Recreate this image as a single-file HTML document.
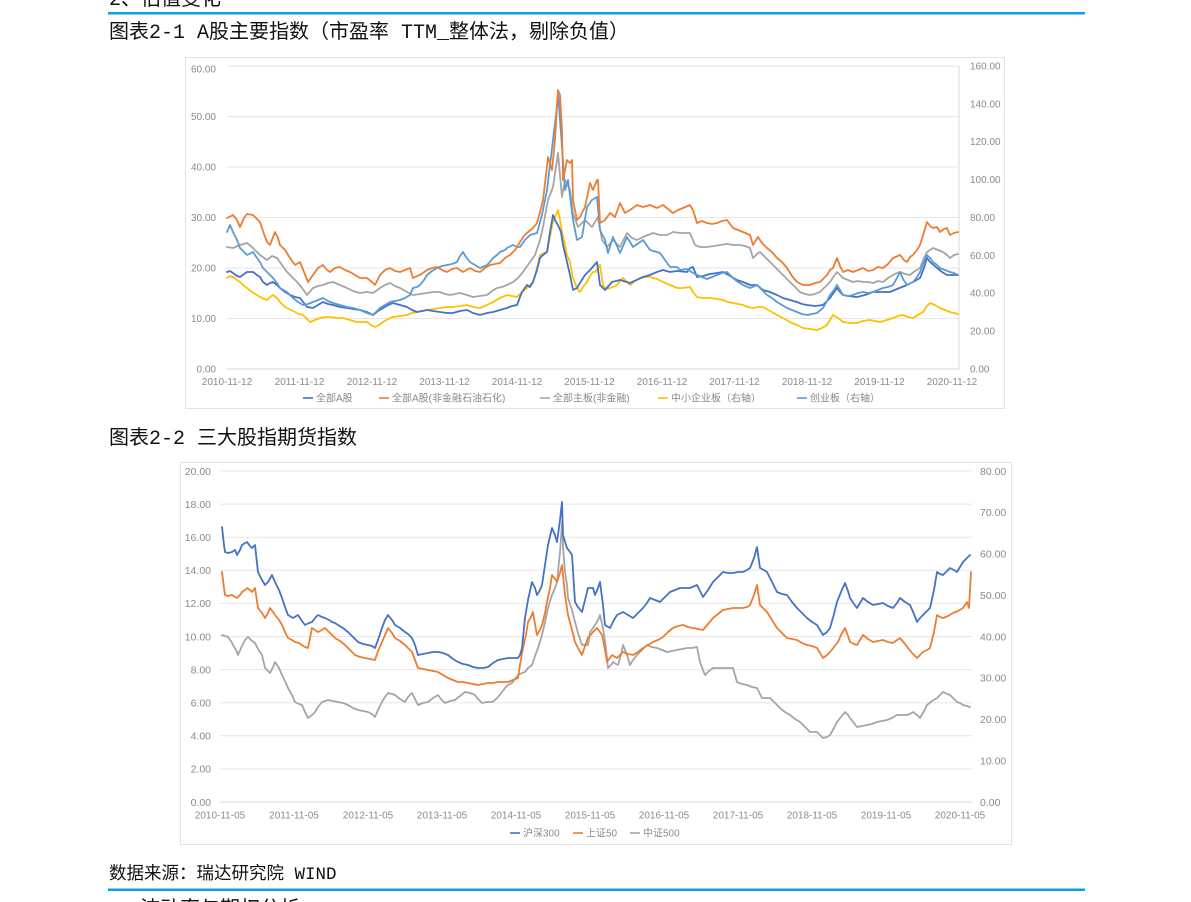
<!DOCTYPE html>
<html>
<head>
<meta charset="utf-8">
<style>
html,body{margin:0;padding:0;background:#fff;}
body{width:1191px;height:902px;overflow:hidden;position:relative;}
svg{position:absolute;left:0;top:0;}
.t{font-family:"Liberation Mono","Noto Sans CJK SC",sans-serif;fill:#111;}
.ax{font-family:"Liberation Sans","Noto Sans CJK SC",sans-serif;font-size:10px;fill:#8a8a8a;}
.lg{font-family:"Liberation Sans","Noto Sans CJK SC",sans-serif;font-size:10px;fill:#8a8a8a;}
.s{fill:none;stroke-width:1.8;stroke-linejoin:round;stroke-linecap:round;}
.g{stroke:#e6e6e6;stroke-width:1;}
</style>
</head>
<body>
<svg width="1191" height="902" viewBox="0 0 1191 902" xmlns="http://www.w3.org/2000/svg">
<text class="t" x="109" y="5" font-size="20">2、估值变化</text>
<rect x="108" y="12" width="977" height="2.5" fill="#0aa0e0"/>
<text class="t" x="109" y="38" font-size="20">图表2-1 A股主要指数（市盈率 TTM_整体法，剔除负值）</text>

<rect x="185.5" y="57.5" width="819" height="351" fill="#fff" stroke="#e3e3e3" stroke-width="1"/>
<g>
<line class="g" x1="227" y1="66" x2="959" y2="66"/>
<line class="g" x1="227" y1="116.5" x2="959" y2="116.5"/>
<line class="g" x1="227" y1="167" x2="959" y2="167"/>
<line class="g" x1="227" y1="217.5" x2="959" y2="217.5"/>
<line class="g" x1="227" y1="268" x2="959" y2="268"/>
<line class="g" x1="227" y1="318.5" x2="959" y2="318.5"/>
<line class="g" x1="227" y1="369" x2="959" y2="369" style="stroke:#d9d9d9"/>
<line x1="959" y1="66" x2="959" y2="369" stroke="#d9d9d9" stroke-width="1"/>
</g>
<g class="ax" text-anchor="end">
<text x="216" y="72.5">60.00</text>
<text x="216" y="120">50.00</text>
<text x="216" y="170.5">40.00</text>
<text x="216" y="221">30.00</text>
<text x="216" y="271.5">20.00</text>
<text x="216" y="322">10.00</text>
<text x="216" y="372.5">0.00</text>
</g>
<g class="ax">
<text x="970" y="69.5">160.00</text>
<text x="970" y="107.3">140.00</text>
<text x="970" y="145.2">120.00</text>
<text x="970" y="183.1">100.00</text>
<text x="970" y="221">80.00</text>
<text x="970" y="258.9">60.00</text>
<text x="970" y="296.7">40.00</text>
<text x="970" y="334.6">20.00</text>
<text x="970" y="372.5">0.00</text>
</g>
<g class="ax" text-anchor="middle">
<text x="227" y="385">2010-11-12</text>
<text x="299.5" y="385">2011-11-12</text>
<text x="372" y="385">2012-11-12</text>
<text x="444.5" y="385">2013-11-12</text>
<text x="517" y="385">2014-11-12</text>
<text x="589.5" y="385">2015-11-12</text>
<text x="662" y="385">2016-11-12</text>
<text x="734.5" y="385">2017-11-12</text>
<text x="807" y="385">2018-11-12</text>
<text x="879.5" y="385">2019-11-12</text>
<text x="952" y="385">2020-11-12</text>
</g>
<g>
<line x1="303" y1="398" x2="313" y2="398" stroke="#4472C4" stroke-width="1.6"/>
<text class="lg" x="316" y="401.5">全部A股</text>
<line x1="379" y1="398" x2="389" y2="398" stroke="#ED7D31" stroke-width="1.6"/>
<text class="lg" x="392" y="401.5">全部A股(非金融石油石化)</text>
<line x1="540" y1="398" x2="550" y2="398" stroke="#A5A5A5" stroke-width="1.6"/>
<text class="lg" x="553" y="401.5">全部主板(非金融)</text>
<line x1="658" y1="398" x2="668" y2="398" stroke="#FFC000" stroke-width="1.6"/>
<text class="lg" x="671" y="401.5">中小企业板（右轴）</text>
<line x1="797" y1="398" x2="807" y2="398" stroke="#5B9BD5" stroke-width="1.6"/>
<text class="lg" x="810" y="401.5">创业板（右轴）</text>
</g>

<polyline class="s" stroke="#A5A5A5" points="227,247 233,248 240,245 247,243 253,248 260,255 267,260 272,256 277,258 282,265 287,272 292,277 297,282 302,288 307,295 313,288 318,286 323,285 328,283 333,282 340,285 347,288 353,291 360,293 367,292 373,293 380,288 385,285 390,283 395,286 400,288 407,292 413,295 420,294 427,293 433,292 440,292 445,294 450,295 455,294 460,293 467,295 473,297 480,296 487,295 492,291 497,288 502,287 507,285 513,282 518,278 523,272 530,262 535,255 540,240 543,227 548,200 553,187 558,153 562,197 565,180 570,190 573,213 578,227 585,220 592,227 598,217 602,240 607,247 613,240 620,247 627,233 632,238 637,240 643,237 653,233 660,235 667,235 673,232 680,233 690,233 695,245 700,247 707,247 714,246 720,245 727,244 733,245 740,245 745,246 750,248 753,258 757,254 760,252 765,257 770,262 775,267 780,272 785,277 790,282 795,287 800,292 805,294 810,295 815,294 820,292 825,287 830,282 834,276 837,272 840,275 843,278 848,280 853,282 858,281 863,282 868,282 873,283 878,281 883,282 888,278 893,275 897,273 900,272 905,274 910,275 915,271 920,268 924,258 927,252 930,250 933,248 938,250 943,252 947,255 950,258 954,255 958,254"/>
<polyline class="s" stroke="#FFC000" points="227,278 230,276 233,277 237,280 240,282 244,286 247,288 252,292 257,295 262,298 267,300 270,297 273,295 277,298 280,302 284,306 287,308 291,310 295,312 299,314 303,315 307,319 310,322 315,320 320,318 325,317 330,317 337,318 343,318 350,320 357,322 362,322 367,322 371,325 375,327 379,325 383,322 388,319 393,317 400,316 407,315 412,313 417,312 422,311 427,310 433,309 440,308 447,307 453,307 460,306 467,305 473,307 480,308 487,305 493,302 500,298 507,295 512,296 517,297 522,292 527,288 530,285 533,282 537,268 540,255 544,253 547,252 550,237 553,222 556,215 558,210 560,220 562,232 565,245 567,255 570,262 573,278 577,288 580,292 583,287 587,282 590,276 593,272 595,272 598,268 600,265 603,285 606,289 610,288 613,287 617,285 620,281 623,278 627,282 630,285 635,281 640,278 645,277 650,277 657,279 663,282 670,285 677,288 683,288 690,287 693,292 697,297 703,298 710,298 717,299 723,300 728,302 733,303 738,304 743,305 748,307 753,308 758,307 763,307 770,311 777,315 783,318 790,322 797,325 803,328 810,329 817,330 822,328 827,325 830,320 833,315 838,318 843,322 850,323 857,323 863,321 870,320 875,321 880,322 887,320 893,318 898,316 903,315 908,317 913,318 918,315 923,312 927,306 930,303 935,305 940,308 945,310 950,312 954,313 958,314"/>
<polyline class="s" stroke="#4472C4" points="227,272 230,271 233,273 237,276 240,277 244,274 247,272 253,272 257,275 260,277 263,282 267,285 270,283 273,282 277,285 280,288 285,292 290,295 295,297 300,298 304,303 307,307 313,308 318,305 323,302 328,304 333,305 340,307 347,308 353,309 360,310 367,312 373,315 378,311 383,308 388,305 393,303 400,305 407,307 412,310 417,312 422,311 427,310 433,311 440,312 447,313 453,313 460,311 467,310 473,313 480,315 487,313 493,312 500,310 507,308 512,306 517,305 520,297 522,292 527,285 530,287 533,282 537,270 540,258 543,255 547,252 550,232 553,215 556,222 558,225 561,232 563,245 567,262 570,275 573,290 577,288 580,283 585,275 590,270 597,262 600,285 605,290 612,282 620,280 630,283 643,277 650,275 657,272 663,270 670,272 677,271 687,272 690,268 693,267 697,277 703,276 710,274 717,273 723,272 730,276 737,280 743,282 750,285 757,285 763,290 770,292 777,295 783,298 790,300 797,302 802,304 807,305 815,306 823,305 830,298 837,288 840,292 843,295 848,296 857,297 865,295 873,292 881,292 890,292 897,289 907,285 913,282 920,278 924,268 927,258 930,262 937,268 942,272 947,275 952,275 958,275"/>
<polyline class="s" stroke="#5B9BD5" points="227,232 230,225 233,232 237,240 240,248 244,252 247,255 253,252 257,258 260,262 263,268 267,272 273,278 277,283 280,288 287,292 293,298 298,302 303,305 308,304 313,302 318,300 323,298 328,301 333,303 340,305 347,307 353,308 360,310 367,313 373,315 380,308 385,305 390,302 395,301 400,300 405,298 410,295 413,288 417,287 420,285 424,280 427,275 432,271 437,268 442,266 447,265 452,264 457,262 460,256 463,252 466,257 470,262 475,265 480,268 485,266 487,265 490,262 493,258 497,255 500,252 505,250 507,248 513,245 517,247 520,247 525,240 530,235 537,233 542,215 547,190 550,165 553,140 556,115 558,93 560,120 562,147 565,190 568,180 573,220 577,240 582,237 587,207 592,200 597,197 600,230 605,240 608,253 613,237 620,253 627,237 633,247 643,240 650,250 660,253 670,267 677,267 680,270 687,269 693,273 697,275 707,279 712,277 717,275 722,273 727,272 733,278 738,282 743,285 750,288 757,285 762,290 767,295 772,298 777,302 782,305 787,308 792,310 797,312 802,314 807,315 812,314 817,313 823,308 827,301 830,295 834,290 837,285 840,290 843,295 848,296 853,295 858,293 863,292 868,293 873,292 878,290 883,288 888,287 893,285 897,278 900,272 903,279 907,285 913,282 917,277 920,272 924,262 927,255 930,258 933,262 937,265 940,268 945,270 950,272 954,273 958,275"/>
<polyline class="s" stroke="#ED7D31" points="227,218 233,215 237,220 240,227 244,218 247,214 253,215 257,219 260,222 264,234 267,242 270,245 275,232 278,238 280,245 285,250 290,258 295,265 300,262 304,272 308,282 313,275 318,268 323,265 327,270 330,272 335,268 340,267 345,270 350,272 355,275 360,278 367,278 372,282 375,285 380,275 385,270 390,268 395,271 400,272 405,270 410,268 413,278 417,276 420,275 427,270 432,268 437,267 442,270 447,272 452,269 457,268 463,272 470,268 475,271 480,272 485,268 490,265 495,264 500,263 505,258 510,255 515,250 520,242 524,236 527,233 533,228 537,223 540,212 543,200 546,175 548,157 552,170 555,140 558,90 560,95 562,130 563,180 567,160 570,163 572,160 573,200 577,220 580,217 585,207 590,183 593,190 597,180 598,180 600,223 605,220 610,213 615,217 620,203 625,213 630,210 637,205 643,207 650,205 657,208 663,205 668,209 673,213 678,210 683,208 690,205 693,210 697,223 702,221 707,223 712,224 717,223 722,221 727,220 733,228 738,230 743,232 750,235 753,245 758,237 762,243 767,248 772,252 777,258 782,262 787,268 792,276 797,282 803,285 810,285 815,283 820,282 827,275 830,270 833,268 837,258 840,266 843,272 848,270 853,272 858,270 863,268 868,271 873,270 878,267 883,268 888,264 893,258 900,255 904,260 907,262 910,257 913,255 917,250 920,245 924,232 927,222 930,226 933,228 937,227 940,232 944,229 947,228 950,235 954,233 958,232"/>

<text class="t" x="109" y="444" font-size="20">图表2-2 三大股指期货指数</text>
<rect x="180.5" y="462.5" width="831" height="382" fill="#fff" stroke="#e3e3e3" stroke-width="1"/>
<g>
<line class="g" x1="220" y1="471" x2="972" y2="471"/>
<line class="g" x1="220" y1="504.1" x2="972" y2="504.1"/>
<line class="g" x1="220" y1="537.2" x2="972" y2="537.2"/>
<line class="g" x1="220" y1="570.3" x2="972" y2="570.3"/>
<line class="g" x1="220" y1="603.4" x2="972" y2="603.4"/>
<line class="g" x1="220" y1="636.5" x2="972" y2="636.5"/>
<line class="g" x1="220" y1="669.6" x2="972" y2="669.6"/>
<line class="g" x1="220" y1="702.7" x2="972" y2="702.7"/>
<line class="g" x1="220" y1="735.8" x2="972" y2="735.8"/>
<line class="g" x1="220" y1="768.9" x2="972" y2="768.9"/>
<line class="g" x1="220" y1="802" x2="972" y2="802" style="stroke:#d9d9d9"/>
</g>
<g class="ax" text-anchor="end" style="font-size:10.5px">
<text x="211" y="474.8">20.00</text>
<text x="211" y="507.9">18.00</text>
<text x="211" y="541">16.00</text>
<text x="211" y="574.1">14.00</text>
<text x="211" y="607.2">12.00</text>
<text x="211" y="640.3">10.00</text>
<text x="211" y="673.4">8.00</text>
<text x="211" y="706.5">6.00</text>
<text x="211" y="739.6">4.00</text>
<text x="211" y="772.7">2.00</text>
<text x="211" y="805.8">0.00</text>
</g>
<g class="ax" style="font-size:10.5px">
<text x="980" y="474.8">80.00</text>
<text x="980" y="516.2">70.00</text>
<text x="980" y="557.6">60.00</text>
<text x="980" y="598.9">50.00</text>
<text x="980" y="640.3">40.00</text>
<text x="980" y="681.7">30.00</text>
<text x="980" y="723.1">20.00</text>
<text x="980" y="764.4">10.00</text>
<text x="980" y="805.8">0.00</text>
</g>
<g class="ax" text-anchor="middle">
<text x="220" y="818.5">2010-11-05</text>
<text x="294" y="818.5">2011-11-05</text>
<text x="368" y="818.5">2012-11-05</text>
<text x="442" y="818.5">2013-11-05</text>
<text x="516" y="818.5">2014-11-05</text>
<text x="590" y="818.5">2015-11-05</text>
<text x="664" y="818.5">2016-11-05</text>
<text x="738" y="818.5">2017-11-05</text>
<text x="812" y="818.5">2018-11-05</text>
<text x="886" y="818.5">2019-11-05</text>
<text x="960" y="818.5">2020-11-05</text>
</g>
<g>
<line x1="510" y1="833" x2="520" y2="833" stroke="#4472C4" stroke-width="1.6"/>
<text class="lg" x="523" y="836.5">沪深300</text>
<line x1="573" y1="833" x2="583" y2="833" stroke="#ED7D31" stroke-width="1.6"/>
<text class="lg" x="586" y="836.5">上证50</text>
<line x1="630" y1="833" x2="640" y2="833" stroke="#A5A5A5" stroke-width="1.6"/>
<text class="lg" x="643" y="836.5">中证500</text>
</g>

<polyline class="s" stroke="#A5A5A5" points="222,635 225,636 228,637 231,641 233,645 236,650 238,655 241,648 245,640 248,637 251,640 255,643 258,649 262,655 265,668 268,671 270,673 273,667 275,662 279,668 282,675 285,681 288,688 292,695 295,702 299,704 302,705 305,712 308,718 312,715 315,712 318,707 322,702 325,701 328,700 333,701 338,702 343,703 348,705 353,708 358,710 363,711 368,712 372,714 375,717 378,710 382,702 385,697 388,693 392,694 395,695 400,699 405,702 408,697 412,693 415,699 418,705 423,703 428,702 433,698 438,695 441,699 445,703 450,701 455,700 460,696 465,692 470,693 475,695 478,699 482,703 487,702 492,702 495,700 498,697 502,692 505,688 508,685 512,683 515,679 518,675 522,673 525,672 528,668 532,665 535,656 538,648 542,635 545,622 548,608 552,595 555,588 557,582 560,552 562,522 563,547 565,572 567,585 568,598 572,610 575,622 578,633 582,645 585,645 588,645 590,632 593,628 595,625 598,620 600,615 603,628 606,648 608,668 611,665 613,662 616,664 618,665 621,655 623,645 627,655 630,665 633,660 637,655 642,650 647,645 652,647 657,648 662,650 667,652 672,651 677,650 682,649 687,648 692,648 697,647 700,662 703,670 705,675 709,671 713,668 718,668 723,668 728,668 733,668 737,682 742,684 747,685 752,687 757,688 760,694 762,698 766,698 770,698 775,703 780,708 785,712 790,715 795,719 800,722 805,727 810,732 814,732 817,732 820,735 823,738 827,737 830,735 834,728 837,722 841,717 845,712 848,715 850,718 854,723 857,727 862,726 867,725 872,724 877,722 882,721 887,720 892,718 897,715 902,715 907,715 910,714 913,712 917,715 920,718 924,711 927,705 932,701 937,698 940,695 943,692 947,694 950,695 954,699 957,702 960,703 963,705 967,706 970,707"/>
<polyline class="s" stroke="#ED7D31" points="222,572 224,588 225,595 228,596 232,595 235,597 237,598 240,595 242,592 245,590 247,588 250,590 252,592 255,588 258,608 262,613 265,618 268,613 270,608 273,612 275,615 279,620 282,625 285,632 288,638 292,640 295,642 299,643 302,645 305,647 308,648 312,628 315,630 318,632 322,630 325,628 330,633 335,638 340,641 345,645 350,650 355,655 360,657 365,658 370,659 375,660 378,651 382,642 385,635 388,628 392,633 395,638 400,641 405,645 408,648 412,652 415,660 418,668 423,669 428,670 433,671 438,672 443,675 448,678 453,680 458,682 463,682 468,683 473,684 478,685 483,684 488,683 493,683 498,682 503,682 508,682 513,680 518,678 520,665 523,648 526,635 528,622 531,617 533,612 535,624 537,635 540,630 542,625 545,613 547,602 550,588 552,575 555,579 557,582 560,573 562,565 565,595 568,615 572,630 575,642 578,648 582,655 585,646 588,638 593,632 597,628 600,632 602,635 605,650 607,662 612,655 617,658 620,655 623,652 628,654 633,655 638,652 643,648 648,645 653,642 658,640 663,637 668,632 673,628 678,626 683,625 688,627 693,628 698,629 703,630 708,624 713,618 718,614 723,610 728,609 733,608 738,608 743,608 747,607 750,605 754,595 757,585 760,605 764,609 767,612 772,620 777,628 782,633 787,638 792,639 797,640 802,643 807,645 812,646 817,648 820,653 823,658 827,655 830,652 834,647 838,642 841,635 845,628 848,636 850,642 854,644 857,645 860,640 863,635 868,639 873,642 878,641 883,640 888,642 893,643 897,640 900,638 905,644 908,648 912,653 917,658 920,655 923,652 927,650 930,648 934,632 937,615 940,617 943,618 948,616 953,613 958,611 963,608 965,605 967,602 969,608 971,572"/>
<polyline class="s" stroke="#4472C4" points="222,527 224,545 225,552 228,553 232,552 235,550 237,555 240,550 242,545 245,543 247,542 250,546 252,548 255,545 258,572 262,580 265,585 268,582 272,575 275,582 279,590 282,598 285,607 288,615 293,618 298,615 302,621 305,625 309,623 312,622 315,618 318,615 322,617 325,618 329,620 332,622 335,623 338,625 343,628 348,632 353,637 358,642 363,644 368,645 372,646 375,648 378,640 382,628 385,620 388,615 392,620 395,625 400,628 405,632 408,634 412,638 415,645 418,655 423,654 428,653 433,652 438,652 443,653 448,655 453,659 458,662 463,664 468,665 473,667 478,668 483,668 488,667 493,663 498,660 503,659 508,658 513,658 518,658 520,655 522,648 525,618 528,600 532,582 535,588 537,595 540,590 542,585 545,565 548,545 552,528 555,535 557,542 560,520 562,502 563,535 565,542 567,548 570,552 572,555 575,602 578,607 582,612 585,600 588,588 593,588 595,595 598,588 600,582 603,605 605,625 610,628 614,620 617,615 623,612 628,615 633,618 638,613 643,608 647,603 650,598 655,600 660,602 665,597 670,592 675,590 680,588 685,588 690,588 697,585 703,597 708,590 713,582 718,577 723,572 728,573 733,573 738,572 743,572 747,570 750,568 754,558 757,547 760,568 764,570 767,572 772,582 777,592 782,594 787,595 792,602 797,608 802,613 807,618 812,622 817,625 820,630 823,635 827,632 830,628 834,614 837,602 841,592 845,583 848,591 850,598 854,604 857,608 860,603 863,598 868,602 873,605 878,604 883,603 888,606 893,608 897,603 900,598 905,602 910,605 914,614 917,622 920,618 923,615 927,611 930,608 934,590 937,572 940,574 943,575 947,571 950,568 954,570 957,572 960,567 963,562 967,558 970,555"/>

<text class="t" x="109" y="879" font-size="17.5">数据来源：瑞达研究院 WIND</text>
<rect x="108" y="888.5" width="977" height="2.5" fill="#0aa0e0"/>
<text class="t" x="140" y="915" font-size="20">波动率与期权分析</text>
</svg>
</body>
</html>
